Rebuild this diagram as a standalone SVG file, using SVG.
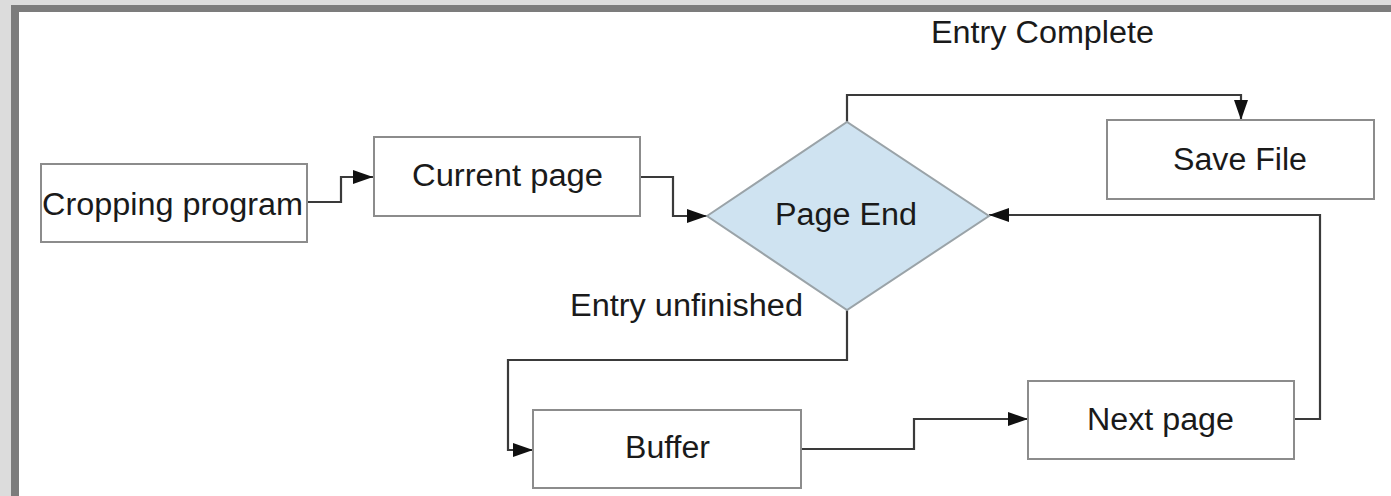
<svg xmlns="http://www.w3.org/2000/svg" width="1391" height="496" viewBox="0 0 1391 496">
  <style>
    .box { fill: #ffffff; stroke: #8c8c8c; stroke-width: 2; }
    .dec { fill: #cfe3f1; stroke: #9aa3a8; stroke-width: 2; }
    .lbl { font-family: "Liberation Sans", Arial, sans-serif; font-size: 31px; fill: #1a1a1a; }
    .wire { fill: none; stroke: #3a3a3a; stroke-width: 2.2; }
  </style>
  <defs>
    <marker id="arrow" viewBox="0 0 20 14" refX="20" refY="7" markerWidth="20" markerHeight="14" markerUnits="userSpaceOnUse" orient="auto">
      <path d="M0,0 L20,7 L0,14 Z" fill="#111111"/>
    </marker>
  </defs>

  <!-- window frame -->
  <rect x="0" y="0" width="1391" height="496" fill="#dcdcdc"/>
  <rect x="11" y="5" width="1380" height="491" fill="#7c7c7c"/>
  <rect x="19" y="12" width="1372" height="484" fill="#ffffff"/>

  <!-- connectors -->
  <g id="connectors">
    <path class="wire" d="M307,202 H341 V177 H373" marker-end="url(#arrow)"/>
    <path class="wire" d="M640,177 H673 V216 H707" marker-end="url(#arrow)"/>
    <path class="wire" d="M847,122 V95 H1241 V120" marker-end="url(#arrow)"/>
    <path class="wire" d="M847,310 V360 H508 V450 H533" marker-end="url(#arrow)"/>
    <path class="wire" d="M801,449 H914 V419 H1028" marker-end="url(#arrow)"/>
    <path class="wire" d="M1295,419 H1320 V215 H989" marker-end="url(#arrow)"/>
    <text class="lbl" x="931" y="43" textLength="223" lengthAdjust="spacingAndGlyphs">Entry Complete</text>
    <text class="lbl" x="570" y="316" textLength="233" lengthAdjust="spacingAndGlyphs">Entry unfinished</text>
  </g>

  <g id="cropping-program">
    <rect class="box" x="41" y="164" width="266" height="78"/>
    <text class="lbl" x="42" y="215" textLength="261" lengthAdjust="spacingAndGlyphs">Cropping program</text>
  </g>

  <g id="current-page">
    <rect class="box" x="374" y="137" width="266" height="79"/>
    <text class="lbl" x="412" y="186" textLength="191" lengthAdjust="spacingAndGlyphs">Current page</text>
  </g>

  <g id="page-end">
    <polygon class="dec" points="707,216 847,122 989,216 847,310"/>
    <text class="lbl" x="775" y="225" textLength="142" lengthAdjust="spacingAndGlyphs">Page End</text>
  </g>

  <g id="save-file">
    <rect class="box" x="1107" y="120" width="267" height="79"/>
    <text class="lbl" x="1173" y="170" textLength="134" lengthAdjust="spacingAndGlyphs">Save File</text>
  </g>

  <g id="buffer">
    <rect class="box" x="533" y="410" width="268" height="78"/>
    <text class="lbl" x="625" y="458" textLength="85" lengthAdjust="spacingAndGlyphs">Buffer</text>
  </g>

  <g id="next-page">
    <rect class="box" x="1028" y="381" width="266" height="78"/>
    <text class="lbl" x="1087" y="430" textLength="147" lengthAdjust="spacingAndGlyphs">Next page</text>
  </g>
</svg>
